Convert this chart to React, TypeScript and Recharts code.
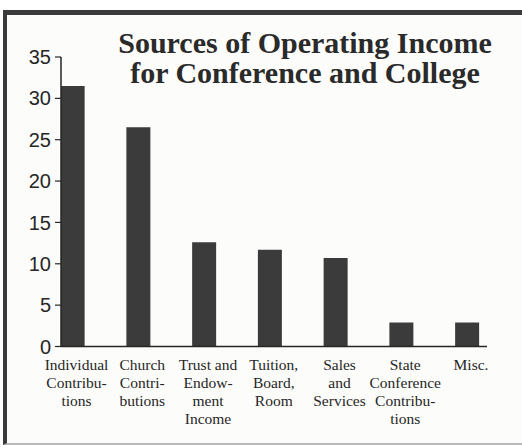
import { Bar, BarChart, XAxis, YAxis } from "recharts";

const categories = [
  "Individual\nContribu-\ntions",
  "Church\nContri-\nbutions",
  "Trust and\nEndow-\nment\nIncome",
  "Tuition,\nBoard,\nRoom",
  "Sales\nand\nServices",
  "State\nConference\nContribu-\ntions",
  "Misc.",
];

const incomeValues = [31.5, 26.5, 12.6, 11.7, 10.7, 2.9, 2.9];

const yTicks = [0, 5, 10, 15, 20, 25, 30, 35];

const titleLines = ["Sources of Operating Income", "for Conference and College"];

const data = categories.map((name, i) => ({
  idx: i,
  name,
  value: incomeValues[i],
}));

const ink = "#262626";

function CategoryTick(props: any) {
  const { x, y, payload } = props;
  const lines = String(categories[payload.value] ?? "").split("\n");
  return (
    <text
      x={x + 4}
      y={y}
      textAnchor="middle"
      fontFamily="'Liberation Serif', 'Times New Roman', serif"
      fontSize={15.5}
      fill={ink}
    >
      {lines.map((line, k) => (
        <tspan key={k} x={x + 4} dy={k === 0 ? 23 : 18}>
          {line}
        </tspan>
      ))}
    </text>
  );
}

export default function App() {
  return (
    <div
      style={{
        position: "absolute",
        left: 0,
        top: 0,
        width: 522,
        height: 447,
        background: "#ffffff",
      }}
    >
      {/* frame round the picture */}
      <div
        style={{
          position: "absolute",
          left: 3,
          top: 10,
          width: 519,
          height: 435,
          boxSizing: "border-box",
          borderLeft: "4px solid #3a3a3a",
          borderTop: "5px solid #3a3a3a",
          borderBottom: "2px solid #b8b8b8",
          background: "#fcfcfa",
        }}
      />
      <div style={{ position: "absolute", left: 0, top: 0 }}>
        <BarChart
          width={522}
          height={447}
          data={data}
          margin={{ top: 57, right: 35, bottom: 0.5, left: 0 }}
        >
          <XAxis
            type="number"
            dataKey="idx"
            domain={[-0.175, 6.304]}
            ticks={[0, 1, 2, 3, 4, 5, 6]}
            allowDataOverflow
            height={100}
            tickLine={false}
            tickSize={0}
            tickMargin={0}
            axisLine={{ stroke: ink, strokeWidth: 1.5 }}
            tick={<CategoryTick />}
            interval={0}
          />
          <YAxis
            type="number"
            domain={[0, 35]}
            ticks={yTicks}
            width={61}
            tickSize={6}
            tickMargin={4}
            axisLine={{ stroke: ink, strokeWidth: 1.5 }}
            tickLine={{ stroke: ink, strokeWidth: 1.2 }}
            tick={{
              fill: ink,
              fontSize: 20,
              fontFamily: "'Liberation Sans', Arial, sans-serif",
            }}
            interval={0}
          />
          <Bar
            dataKey="value"
            fill="#3b3b3b"
            barSize={24}
            isAnimationActive={false}
          />
        </BarChart>
      </div>
      <div
        style={{
          position: "absolute",
          left: 105,
          top: 28,
          width: 400,
          textAlign: "center",
          fontFamily: "'Liberation Serif', 'Times New Roman', serif",
          fontWeight: "bold",
          fontSize: 30,
          lineHeight: "30px",
          color: "#2a2a2a",
        }}
      >
        {titleLines.map((line) => (
          <div key={line}>{line}</div>
        ))}
      </div>
    </div>
  );
}
